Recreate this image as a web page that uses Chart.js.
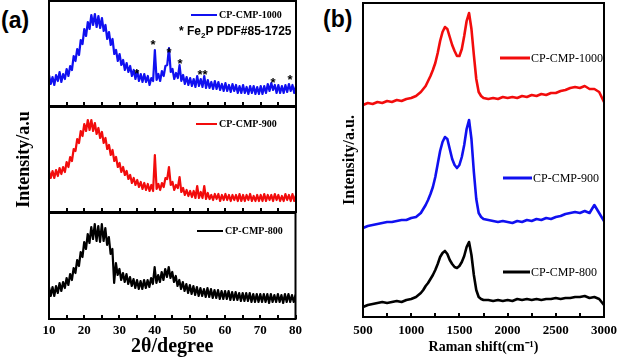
<!DOCTYPE html>
<html><head><meta charset="utf-8">
<script src="https://cdn.jsdelivr.net/npm/chart.js@4"></script>
<style>
html,body{margin:0;padding:0;background:#fff}
body{width:627px;height:362px;overflow:hidden;position:relative}
canvas{position:absolute}
.lab{position:absolute;font:bold 23px "Liberation Sans",Arial,sans-serif;line-height:23px;color:#000}
</style></head><body>
<div class="lab" style="left:1px;top:9px">(a)</div>
<div class="lab" style="left:323px;top:8px">(b)</div>
<canvas id="a1" width="310" height="107" style="left:0;top:0"></canvas>
<canvas id="a2" width="310" height="107" style="left:0;top:106px"></canvas>
<canvas id="a3" width="310" height="150" style="left:0;top:212px"></canvas>
<canvas id="b" width="327" height="362" style="left:300px;top:0"></canvas>
<script>
const seriesNames = ['CP-CMP-1000', 'CP-CMP-900', 'CP-CMP-800'];
const xrdTickLabels = ['10','20','30','40','50','60','70','80'];
const ramanTickLabels = ['500','1000','1500','2000','2500','3000'];

const xrdAngle = [
10,10.5,11,11.5,12,12.5,13,13.5,14,14.5,
15,15.5,16,16.5,17,17.5,18,18.5,19,19.5,
20,20.5,21,21.5,22,22.5,23,23.5,24,24.5,
25,25.5,26,26.5,27,27.5,28,28.5,29,29.5,
30,30.5,31,31.5,32,32.5,33,33.5,34,34.5,
35,35.5,36,36.5,37,37.5,38,38.5,39,39.5,
40,40.5,41,41.5,42,42.5,43,43.5,44,44.5,
45,45.5,46,46.5,47,47.5,48,48.5,49,49.5,
50,50.5,51,51.5,52,52.5,53,53.5,54,54.5,
55,55.5,56,56.5,57,57.5,58,58.5,59,59.5,
60,60.5,61,61.5,62,62.5,63,63.5,64,64.5,
65,65.5,66,66.5,67,67.5,68,68.5,69,69.5,
70,70.5,71,71.5,72,72.5,73,73.5,74,74.5,
75,75.5,76,76.5,77,77.5,78,78.5,79,79.5,
80];

const xrd1000 = [
31,22,29,21,31,25,34,24,32,27,
37,30,40,36,50,45,57,51,66,62,
77,70,84,77,91,81,92,79,90,78,
88,75,81,67,74,61,67,52,56,45,
52,41,46,36,43,34,40,30,36,27,
35,25,32,24,32,24,30,21,28,25,
56,26,32,25,35,30,40,41,58,34,
37,27,33,28,41,25,31,22,29,21,
28,20,27,19,30,20,27,19,30,18,
26,18,24,17,25,17,24,16,22,15,
23,15,21,14,22,15,21,13,20,13,
21,13,19,12,20,13,20,12,19,12,
20,12,20,13,22,15,23,16,21,13,
21,13,20,13,21,14,22,15,21,13,
20];

const xrd900 = [
41,34,41,34,42,36,44,38,45,40,
50,45,55,51,63,61,73,69,81,76,
88,81,92,82,92,81,89,78,84,74,
80,69,74,63,67,57,62,51,55,45,
49,40,45,37,41,33,37,29,34,27,
32,25,30,23,29,22,28,21,27,21,
57,23,28,22,29,25,34,33,45,27,
30,22,27,24,35,20,24,17,22,16,
21,15,21,14,26,14,20,14,26,13,
19,13,17,12,18,13,18,11,17,12,
18,12,17,11,17,12,17,11,18,11,
17,11,17,12,18,11,16,11,17,11,
17,11,18,11,17,12,17,11,18,12,
17,11,16,11,18,12,17,11,18,11,
17];

const xrd800 = [
32,23,32,23,33,26,36,28,37,31,
41,34,45,39,51,46,59,53,67,62,
77,70,85,76,92,80,95,78,93,77,
95,78,91,74,82,65,70,36,56,44,
50,39,46,37,45,35,42,33,40,31,
39,30,38,30,39,31,39,32,41,35,
52,36,44,37,47,39,50,42,52,41,
47,37,43,33,39,30,37,28,35,26,
34,25,33,24,32,23,31,23,30,22,
31,22,30,21,29,21,29,20,28,20,
28,20,28,19,27,19,27,19,26,18,
26,18,26,18,26,17,25,17,25,17,
25,17,25,17,25,16,25,17,24,17,
25,17,24,16,25,17,25,17,24,17,
24];

const starAngle = [34.9, 39.5, 44.0, 47.1, 52.8, 54.2, 73.5, 78.3];
const starLevel = [35, 64, 56, 45, 34, 34, 26, 29];

const ramanShift = [
500,550,600,650,700,750,800,850,900,950,1000,1050,1100,
1125,1150,1175,1200,1225,1250,1275,1300,1325,1350,1375,1400,1425,1450,1475,1500,1525,1550,1575,1600,1625,1650,1675,1700,1725,1750,
1800,1850,1900,1950,2000,2050,2100,2150,2200,2250,2300,2350,2400,2450,2500,2550,2600,2650,2700,2750,2800,2850,2900,2950,3000];

const raman1000 = [
212,214,213,215,214,216,215,217,216,218,219,221,225,
228,231,236,241,247,254,264,276,285,290,288,280,272,266,261,261,268,281,296,304,288,262,238,225,221,219,
218,219,218,220,219,220,219,221,220,222,221,223,222,224,224,226,227,229,230,229,231,228,228,225,215];

const raman900 = [
89,91,92,93,94,95,95,96,97,97,99,100,104,
108,112,117,123,130,140,153,166,175,180,178,168,158,152,149,152,160,172,188,197,178,145,118,104,100,98,
97,96,95,96,95,94,96,95,97,96,98,97,99,98,100,101,103,104,105,104,106,104,112,104,96];

const raman800 = [
10,12,13,14,15,14,15,16,15,17,18,20,24,
27,31,34,38,42,47,53,60,64,66,63,57,53,50,49,51,55,61,70,75,62,42,27,20,18,17,
17,16,17,16,17,16,18,17,18,17,18,17,18,18,19,18,19,19,20,20,21,19,20,18,12];

const SERIF = '"Liberation Serif","Times New Roman",serif';
const SANS = '"Liberation Sans",Arial,sans-serif';
const RED = '#f20c0c', BLUE = '#1010f0', BLACK = '#000000';

const framePlugin = {
  id: 'frame',
  afterDraw(chart, args, o) {
    const {ctx, chartArea: a} = chart;
    ctx.save();
    ctx.strokeStyle = '#000';
    ctx.lineWidth = o.width || 2;
    ctx.strokeRect(a.left, a.top, a.right - a.left, a.bottom - a.top);
    ctx.restore();
  }
};

const legendPlugin = {
  id: 'sampleLegend',
  afterDraw(chart, args, o) {
    if (!o.items) return;
    const ctx = chart.ctx;
    o.items.forEach(it => {
      const ds = chart.data.datasets[it.dataset];
      ctx.save();
      ctx.strokeStyle = ds.borderColor;
      ctx.lineWidth = o.lineWidth;
      ctx.beginPath();
      ctx.moveTo(it.x, it.y);
      ctx.lineTo(it.x + it.len, it.y);
      ctx.stroke();
      ctx.fillStyle = '#000';
      ctx.font = o.font;
      ctx.textAlign = 'left';
      ctx.textBaseline = 'middle';
      ctx.fillText(ds.label, it.x + it.len + o.gap, it.y + 0.5);
      ctx.restore();
    });
  }
};

const starPlugin = {
  id: 'stars',
  afterDatasetsDraw(chart, args, o) {
    if (!o.show) return;
    const {ctx, scales: {x, y}} = chart;
    ctx.save();
    ctx.fillStyle = '#000';
    ctx.textAlign = 'center';
    ctx.textBaseline = 'alphabetic';
    ctx.font = 'bold 13px ' + SANS;
    starAngle.forEach((a, i) => {
      ctx.fillText('*', x.getPixelForValue(a), y.getPixelForValue(starLevel[i]) + 7);
    });
    ctx.textAlign = 'left';
    let px = o.noteX, base = o.noteY;
    const big = 'bold 12px ' + SANS, small = 'bold 8px ' + SANS;
    const parts = [['* Fe', big, 0], ['2', small, 3], ['P PDF#85-1725', big, 0]];
    parts.forEach(p => {
      ctx.font = p[1];
      ctx.fillText(p[0], px, base + p[2]);
      px += ctx.measureText(p[0]).width;
    });
    ctx.restore();
  }
};

Chart.register(framePlugin, legendPlugin, starPlugin);

function xrdChart(id, values, color, name, cfg) {
  return new Chart(document.getElementById(id), {
    type: 'line',
    data: {datasets: [{
      label: name,
      data: xrdAngle.map((a, i) => ({x: a, y: values[i]})),
      borderColor: color, borderWidth: 2.2, borderJoinStyle: 'round', borderCapStyle: 'round',
      pointRadius: 0, tension: 0, fill: false
    }]},
    options: {
      responsive: false, animation: false, events: [], devicePixelRatio: 1,
      layout: {padding: cfg.padding},
      plugins: {
        legend: {display: false}, tooltip: {enabled: false},
        frame: {width: 2},
        sampleLegend: {items: [cfg.legend], lineWidth: 2, gap: 2, font: 'bold 10px ' + SERIF},
        stars: {show: !!cfg.stars, noteX: 179, noteY: 35}
      },
      scales: {
        x: {
          type: 'linear', min: 10, max: 80,
          afterFit: s => { s.height = cfg.xHeight; },
          border: {display: false},
          grid: {drawOnChartArea: false, drawTicks: true, tickLength: -4, color: '#000', lineWidth: 2},
          ticks: {
            display: !!cfg.showTicks, stepSize: 5, autoSkip: false, maxRotation: 0, minRotation: 0,
            padding: 8, color: '#000', font: {family: SERIF, weight: 'bold', size: 13},
            callback: v => (v % 10 === 0 ? xrdTickLabels[(v - 10) / 10] : '')
          },
          title: {display: !!cfg.xTitle, text: cfg.xTitle || '', color: '#000',
                  font: {family: SERIF, weight: 'bold', size: 20}, padding: {top: 0, bottom: 3}}
        },
        y: {
          display: !!cfg.yTitle, min: 0, max: cfg.yMax,
          afterFit: s => { s.width = cfg.yTitle ? 49 : 0; },
          grid: {display: false}, border: {display: false}, ticks: {display: false},
          title: {display: !!cfg.yTitle, text: cfg.yTitle || '', color: '#000',
                  font: {family: SERIF, weight: 'bold', size: 18}, padding: {top: 14, bottom: 0}}
        }
      }
    }
  });
}

xrdChart('a1', xrd1000, BLUE, seriesNames[0], {
  padding: {left: 49, right: 14, top: 1, bottom: 0}, xHeight: 1, yMax: 105, stars: true,
  legend: {dataset: 0, x: 191, y: 15, len: 26}
});
xrdChart('a2', xrd900, RED, seriesNames[1], {
  padding: {left: 0, right: 14, top: 1, bottom: 0}, xHeight: 1, yMax: 105,
  yTitle: 'Intensity/a.u',
  legend: {dataset: 0, x: 196, y: 18, len: 21}
});
xrdChart('a3', xrd800, BLACK, seriesNames[2], {
  padding: {left: 49, right: 14, top: 1, bottom: 0}, xHeight: 43, yMax: 106, showTicks: true,
  xTitle: '2θ/degree',
  legend: {dataset: 0, x: 197, y: 19, len: 26}
});

const ramanSets = [[raman1000, RED], [raman900, BLUE], [raman800, BLACK]];
new Chart(document.getElementById('b'), {
  type: 'line',
  data: {datasets: ramanSets.map((s, k) => ({
    label: seriesNames[k],
    data: ramanShift.map((w, i) => ({x: w, y: s[0][i]})),
    borderColor: s[1], borderWidth: 2.6, borderJoinStyle: 'round',
    pointRadius: 0, tension: 0, fill: false
  }))},
  options: {
    responsive: false, animation: false, events: [], devicePixelRatio: 1,
    layout: {padding: {left: 0, right: 14, top: 3, bottom: 0}},
    plugins: {
      legend: {display: false}, tooltip: {enabled: false},
      frame: {width: 2},
      sampleLegend: {
        items: [{dataset: 0, x: 200, y: 58, len: 30}, {dataset: 1, x: 203, y: 178, len: 29}, {dataset: 2, x: 203, y: 272, len: 27}],
        lineWidth: 3, gap: 1, font: '12px ' + SERIF
      },
      stars: {show: false}
    },
    scales: {
      x: {
        type: 'linear', min: 500, max: 3000,
        afterFit: s => { s.height = 45; },
        border: {display: false},
        grid: {drawOnChartArea: false, drawTicks: true, tickLength: -4, color: '#000', lineWidth: 2},
        ticks: {
          stepSize: 250, autoSkip: false, maxRotation: 0, minRotation: 0, padding: 10,
          color: '#000', font: {family: SERIF, weight: 'bold', size: 13},
          callback: v => (v % 500 === 0 ? ramanTickLabels[(v - 500) / 500] : '')
        },
        title: {display: true, text: 'Raman shift(cm⁻¹)', color: '#000',
                font: {family: SERIF, weight: 'bold', size: 14}, padding: {top: 0, bottom: 6}}
      },
      y: {
        min: 0, max: 314,
        afterFit: s => { s.width = 63; },
        grid: {display: false}, border: {display: false}, ticks: {display: false},
        title: {display: true, text: 'Intensity/a.u.', color: '#000',
                font: {family: SERIF, weight: 'bold', size: 16}, padding: {top: 40, bottom: 0}}
      }
    }
  }
});
</script>
</body></html>
